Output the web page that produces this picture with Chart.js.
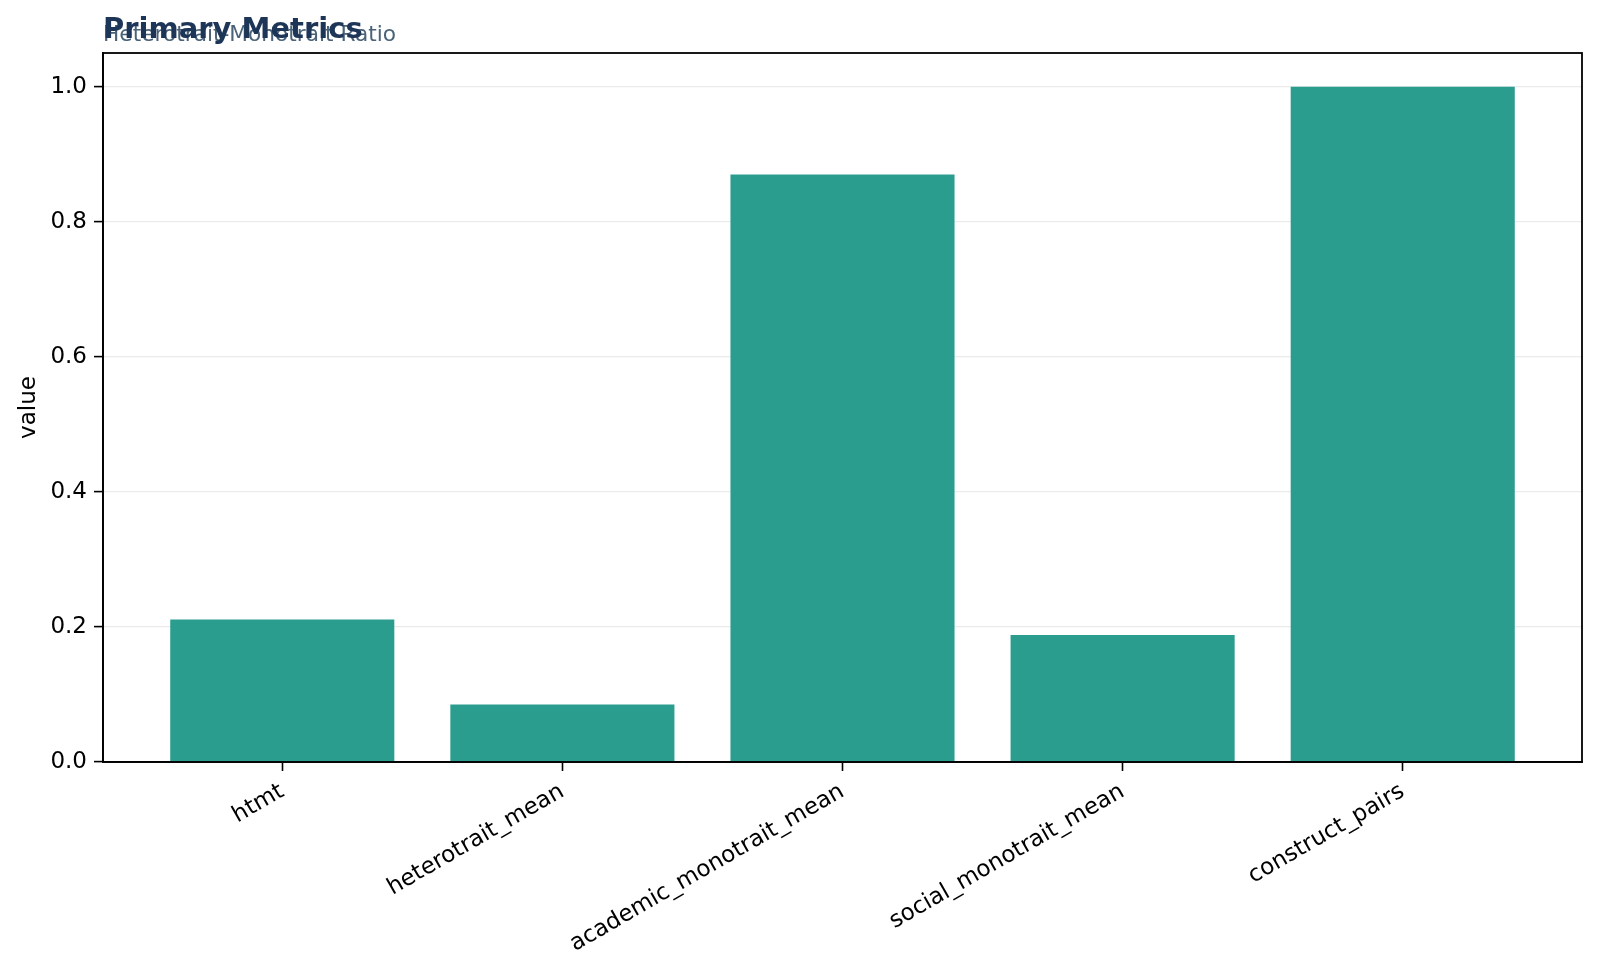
<!DOCTYPE html>
<html>
<head>
<meta charset="utf-8">
<script src="https://cdn.jsdelivr.net/npm/chart.js@4.4.1/dist/chart.umd.min.js"></script>
<style>
  html, body { margin: 0; padding: 0; background: #fff; }
  #wrap { width: 1600px; height: 978px; }
</style>
</head>
<body>
<div id="wrap"><canvas id="chart" width="1600" height="978"></canvas></div>
<script>
// === Data ===
const CATEGORIES = ['htmt', 'heterotrait_mean', 'academic_monotrait_mean', 'social_monotrait_mean', 'construct_pairs'];
const VALUES = [0.211, 0.085, 0.870, 0.188, 1.0];
const Y_TICKS = [0.0, 0.2, 0.4, 0.6, 0.8, 1.0];
const TITLE = 'Primary Metrics';
const SUBTITLE = 'Heterotrait-Monotrait Ratio';
const Y_LABEL = 'value';

const FONT = '"DejaVu Sans", sans-serif';
const BAR_COLOR = '#2a9d8f';

// frame on all four sides + the overlapping title/subtitle pair
const frameAndTitles = {
    id: 'frameAndTitles',
    afterDraw(chart) {
        const { ctx, chartArea: a } = chart;
        ctx.save();
        ctx.strokeStyle = '#000';
        ctx.lineWidth = 1.8;
        ctx.strokeRect(a.left, a.top, a.right - a.left, a.bottom - a.top);
        ctx.textAlign = 'left';
        ctx.textBaseline = 'alphabetic';
        ctx.fillStyle = '#4a6378';
        ctx.font = `21.7px ${FONT}`;
        ctx.fillText(SUBTITLE, a.left, 41);
        ctx.fillStyle = '#1d3557';
        ctx.font = `bold 29px ${FONT}`;
        ctx.fillText(TITLE, a.left, 38);
        ctx.restore();
    }
};

new Chart(document.getElementById('chart'), {
    type: 'bar',
    data: {
        datasets: [{
            data: VALUES.map((v, i) => ({ x: i, y: v })),
            backgroundColor: BAR_COLOR,
            borderWidth: 0,
            barPercentage: 0.8,
            categoryPercentage: 1.0,
        }]
    },
    options: {
        responsive: false,
        animation: false,
        layout: { padding: { top: 53, right: 18, left: 0, bottom: 0 } },
        plugins: {
            legend: { display: false },
            tooltip: { enabled: false },
        },
        scales: {
            x: {
                type: 'linear',
                offset: false,
                min: -0.64,
                max: 4.64,
                afterFit: (s) => { s.height = 216; },
                afterBuildTicks: (s) => { s.ticks = CATEGORIES.map((_, i) => ({ value: i })); },
                grid: { offset: false, drawOnChartArea: false, tickLength: 9, tickColor: '#000', tickWidth: 1.6 },
                border: { display: true, color: '#000', width: 1.8 },
                ticks: {
                    autoSkip: false,
                    minRotation: 30,
                    maxRotation: 30,
                    padding: 7,
                    color: '#000',
                    font: { family: FONT, size: 23 },
                    callback: (v) => CATEGORIES[v] ?? '',
                },
            },
            y: {
                min: 0,
                max: 1.05,
                afterFit: (s) => { s.width = 103; },
                afterBuildTicks: (s) => { s.ticks = Y_TICKS.map(v => ({ value: v })); },
                grid: { color: '#ebebeb', lineWidth: 1.2, tickLength: 9, tickColor: '#000', tickWidth: 1.6 },
                border: { display: true, color: '#000', width: 1.8 },
                ticks: {
                    padding: 7,
                    color: '#000',
                    font: { family: FONT, size: 23 },
                    callback: (v) => v.toFixed(1),
                },
                title: {
                    display: true,
                    text: Y_LABEL,
                    color: '#000',
                    font: { family: FONT, size: 23 },
                    padding: { top: 15, bottom: 0 },
                },
            },
        },
    },
    plugins: [frameAndTitles],
});
</script>
</body>
</html>
